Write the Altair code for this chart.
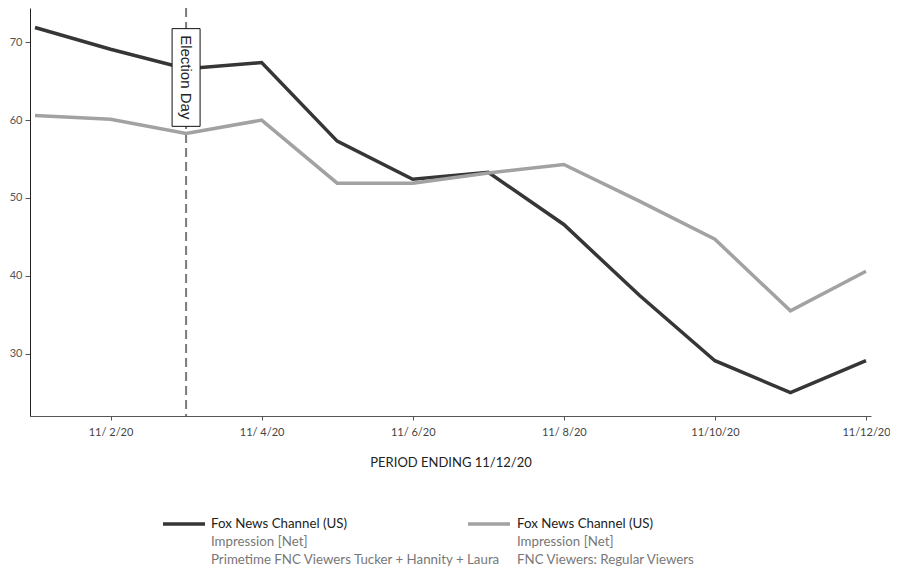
import altair as alt
import pandas as pd

# ---- data ----
dates = ["2020-11-01", "2020-11-02", "2020-11-03", "2020-11-04", "2020-11-05", "2020-11-06",
         "2020-11-07", "2020-11-08", "2020-11-09", "2020-11-10", "2020-11-11", "2020-11-12"]
primetime = [71.9, 69.1, 66.6, 67.4, 57.3, 52.4, 53.3, 46.6, 37.5, 29.1, 25.0, 29.1]
regular = [60.6, 60.1, 58.3, 60.0, 51.9, 51.9, 53.2, 54.3, 49.6, 44.7, 35.5, 40.6]
series_names = ["Primetime", "Regular"]
legend_lines = [
    ["Fox News Channel (US)", "Impression [Net]", "Primetime FNC Viewers  Tucker + Hannity + Laura"],
    ["Fox News Channel (US)", "Impression [Net]", "FNC Viewers: Regular Viewers"],
]
x_ticks = ["2020-11-02", "2020-11-04", "2020-11-06", "2020-11-08", "2020-11-10", "2020-11-12"]
y_ticks = [30, 40, 50, 60, 70]
election_date = "2020-11-03"
election_label = "Election Day"

colors = ["#363636", "#a2a2a2"]
FONT = "Lato"

df = pd.DataFrame({
    "date": dates * 2,
    "value": primetime + regular,
    "series": [series_names[0]] * len(dates) + [series_names[1]] * len(dates),
})

def dt(s):
    y, m, d = s.split("-")
    return alt.DateTime(year=int(y), month=int(m), date=int(d), utc=True)

xscale = alt.Scale(type="utc", domain=[dt(dates[0]), dt(dates[-1])], nice=False)
yscale = alt.Scale(domain=[22, 74.4], nice=False, zero=False)

x_enc = alt.X(
    "date:T",
    scale=xscale,
    axis=alt.Axis(
        values=[dt(v) for v in x_ticks],
        format="%_m/%_d/%y",
        title="PERIOD ENDING 11/12/20",
        titleFont=FONT, titleFontSize=13, titleFontWeight="normal", titleColor="#222",
        titlePadding=19,
        labelFont=FONT, labelFontSize=11, labelColor="#444", labelPadding=6,
        domainColor="#555", tickColor="#555", tickSize=4, grid=False,
    ),
)
y_enc = alt.Y(
    "value:Q",
    scale=yscale,
    axis=alt.Axis(
        values=y_ticks, title=None, grid=False,
        labelFont=FONT, labelFontSize=11, labelColor="#555", labelPadding=3,
        domainColor="#222", tickColor="#555", tickSize=5,
    ),
)

lines = alt.Chart(df).mark_line(strokeWidth=3.5).encode(
    x=x_enc, y=y_enc,
    color=alt.Color("series:N", scale=alt.Scale(domain=series_names, range=colors), legend=None),
)

ed = pd.DataFrame({"date": [election_date], "top": [71.75], "bottom": [59.2], "mid": [65.5],
                   "label": [election_label]})
rule = alt.Chart(ed).mark_rule(strokeDash=[9, 5], color="#7a7a7a", strokeWidth=2).encode(x="date:T")
box = alt.Chart(ed).mark_bar(size=28, fill="white", stroke="#111", strokeWidth=1).encode(
    x="date:T", y="top:Q", y2="bottom:Q")
label = alt.Chart(ed).mark_text(angle=90, fontSize=15, font="Liberation Sans", color="#222",
                                align="center", baseline="middle").encode(
    x="date:T", y="mid:Q", text="label:N")

# ---- manual legend (below the plot) ----
legend_layers = []
sym_x = [133, 438]
txt_x = [181, 487]
row_y = [516, 534, 552]
for i, name in enumerate(series_names):
    legend_layers.append(
        alt.Chart(ed).mark_rule(color=colors[i], strokeWidth=3.5).encode(
            x=alt.value(sym_x[i]), x2=alt.value(sym_x[i] + 42), y=alt.value(row_y[0]))
    )
    for j, t in enumerate(legend_lines[i]):
        legend_layers.append(
            alt.Chart(ed).mark_text(align="left", baseline="middle", font=FONT, fontSize=13.3,
                                    color="#222" if j == 0 else "#777").encode(
                x=alt.value(txt_x[i]), y=alt.value(row_y[j]), text=alt.value(t))
        )

chart = alt.layer(rule, lines, box, label, *legend_layers).properties(
    width=841, height=408,
    autosize=alt.AutoSizeParams(type="none"),
    padding={"left": 22, "top": 0, "right": 19, "bottom": 155},
).configure_view(stroke=None)

chart.save("out.html", embed_options={"renderer": "svg", "actions": False})
